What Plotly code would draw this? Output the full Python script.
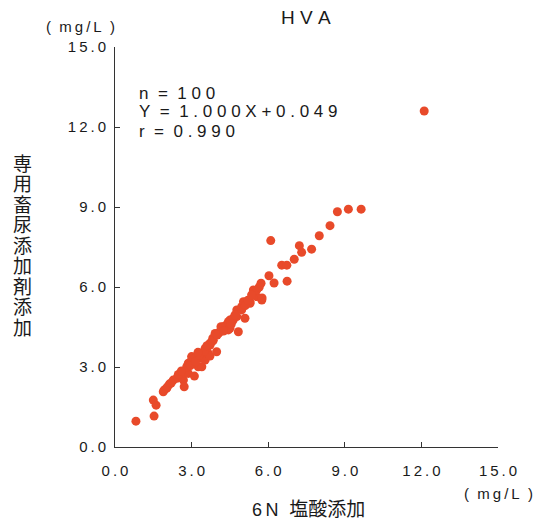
import plotly.graph_objects as go

# ---- data ----
x_hcl = [0.82, 1.53, 1.50, 1.61, 1.89, 1.93, 2.02, 2.13, 2.05, 2.28,
         2.42, 2.52, 2.68, 2.71, 2.48, 2.74, 2.87, 2.81, 2.87, 3.00,
         3.00, 3.11, 3.20, 3.26, 3.33, 3.40, 3.40, 3.46, 3.53, 3.53,
         3.59, 3.65, 3.72, 3.72, 3.72, 3.83, 3.85, 3.92, 3.98, 4.05,
         4.11, 4.15, 4.18, 4.24, 4.35, 4.44, 4.44, 4.50, 4.50, 4.63,
         4.63, 4.77, 4.77, 4.83, 4.96, 4.96, 5.03, 5.09, 5.29, 5.29,
         5.42, 5.55, 5.55, 5.72, 5.75, 5.76, 6.03, 6.10, 6.23, 6.53,
         6.73, 6.74, 7.02, 7.22, 7.31, 7.70, 8.00, 8.42, 8.71, 9.14,
         9.64, 12.11, 2.20, 2.60, 2.95, 3.10, 3.15, 3.30, 3.50, 3.60,
         3.80, 4.00, 4.25, 4.55, 4.70, 5.10, 5.20, 5.35, 5.65, 3.25]
y_special = [0.97, 1.16, 1.76, 1.57, 2.07, 2.14, 2.20, 2.36, 2.25, 2.51,
             2.58, 2.70, 2.51, 2.26, 2.72, 2.76, 2.76, 3.01, 3.14, 3.26,
             3.39, 2.66, 3.39, 3.01, 3.33, 3.51, 3.01, 3.51, 3.70, 3.26,
             3.64, 3.51, 3.82, 3.41, 3.89, 4.08, 4.00, 4.26, 3.57, 4.26,
             4.32, 4.51, 4.45, 4.51, 4.57, 4.39, 4.70, 4.76, 4.45, 4.76,
             4.83, 4.89, 5.14, 4.32, 5.14, 5.26, 5.45, 4.83, 5.39, 5.45,
             5.89, 5.64, 5.89, 6.14, 5.51, 5.59, 6.42, 7.74, 6.15, 6.82,
             6.82, 6.22, 7.04, 7.55, 7.30, 7.42, 7.92, 8.30, 8.82, 8.92,
             8.92, 12.60, 2.40, 2.85, 3.05, 3.30, 3.20, 3.45, 3.60, 3.80,
             3.95, 4.20, 4.35, 4.60, 4.95, 5.30, 5.50, 5.70, 6.00, 3.55]
tick_vals = [0, 3, 6, 9, 12, 15]
tick_labels = ["0.0", "3.0", "6.0", "9.0", "12.0", "15.0"]
title_text = "HVA"
x_title = "塩酸添加"
x_title_prefix = "6N"
y_title = "専用畜尿添加剤添加"
unit_text = "( mg/L )"
stats_lines = ["n = 100", "Y = 1.000X+0.049", "r = 0.990"]

NB = "\u00a0"


def spaced(s, gap=NB):
    out = []
    for i, c in enumerate(s):
        if c == " ":
            out.append(NB + NB)
            continue
        out.append(c)
        if i < len(s) - 1 and s[i + 1] != " ":
            out.append(gap)
    return "".join(out)


FONT = "Liberation Sans, Arial, Noto Sans CJK JP, sans-serif"
TXT = "#1a1a1a"
AX = "#333333"

W, H = 541, 523
L, R, T, B = 115, 43, 47, 76
PW, PH = W - L - R, H - T - B


def px(xp):
    return (xp - L) / PW


def py(yp):
    return (H - B - yp) / PH


fig = go.Figure()
fig.add_trace(go.Scatter(
    x=x_hcl, y=y_special, mode="markers",
    marker=dict(color="#E84A2A", size=9, line=dict(width=0)),
    hoverinfo="skip", showlegend=False,
))

axis_common = dict(
    range=[0, 15], tickvals=tick_vals, ticktext=[spaced(t, "\u2009") for t in tick_labels],
    showline=True, linecolor=AX, linewidth=1, ticks="inside", ticklen=5,
    tickcolor=AX, tickwidth=1, showgrid=False, zeroline=False,
    tickfont=dict(family=FONT, size=15, color=TXT),
)

fig.update_layout(
    width=W, height=H, margin=dict(l=L, r=R, t=T, b=B),
    paper_bgcolor="white", plot_bgcolor="white",
    xaxis=dict(**axis_common, ticklabelstandoff=10),
    yaxis=dict(**axis_common, ticklabelstandoff=5),
    font=dict(family=FONT, color=TXT),
)

ann = []
# title
ann.append(dict(text=spaced(title_text), x=px(306), y=py(18), xref="paper", yref="paper",
                xanchor="center", yanchor="middle", showarrow=False,
                font=dict(size=19, family=FONT, color=TXT)))
# units
for ux, uy in [(80, 26), (498, 493)]:
    ann.append(dict(text=spaced(unit_text, "\u2009"),
                    x=px(ux), y=py(uy), xref="paper", yref="paper",
                    xanchor="center", yanchor="middle", showarrow=False,
                    font=dict(size=15, family=FONT, color=TXT)))
# x title
ann.append(dict(text="<span style='font-size:18px'>" + spaced(x_title_prefix, "\u2009") + "</span>"
                + NB + NB + x_title,
                x=px(308), y=py(509), xref="paper", yref="paper",
                xanchor="center", yanchor="middle", showarrow=False,
                font=dict(size=19, family=FONT, color=TXT)))
# y title, one character per row
for i, ch in enumerate(y_title):
    ann.append(dict(text=ch, x=px(22), y=py(164 + i * 20.5), xref="paper", yref="paper",
                    xanchor="center", yanchor="middle", showarrow=False,
                    font=dict(size=19, family=FONT, color=TXT)))
# stats text
for i, line in enumerate(stats_lines):
    ann.append(dict(text=spaced(line), x=px(137), y=py(93 + i * 19), xref="paper", yref="paper",
                    xanchor="left", yanchor="middle", showarrow=False,
                    font=dict(size=17, family=FONT, color=TXT)))

fig.update_layout(annotations=ann)
fig.write_html("out.html")
